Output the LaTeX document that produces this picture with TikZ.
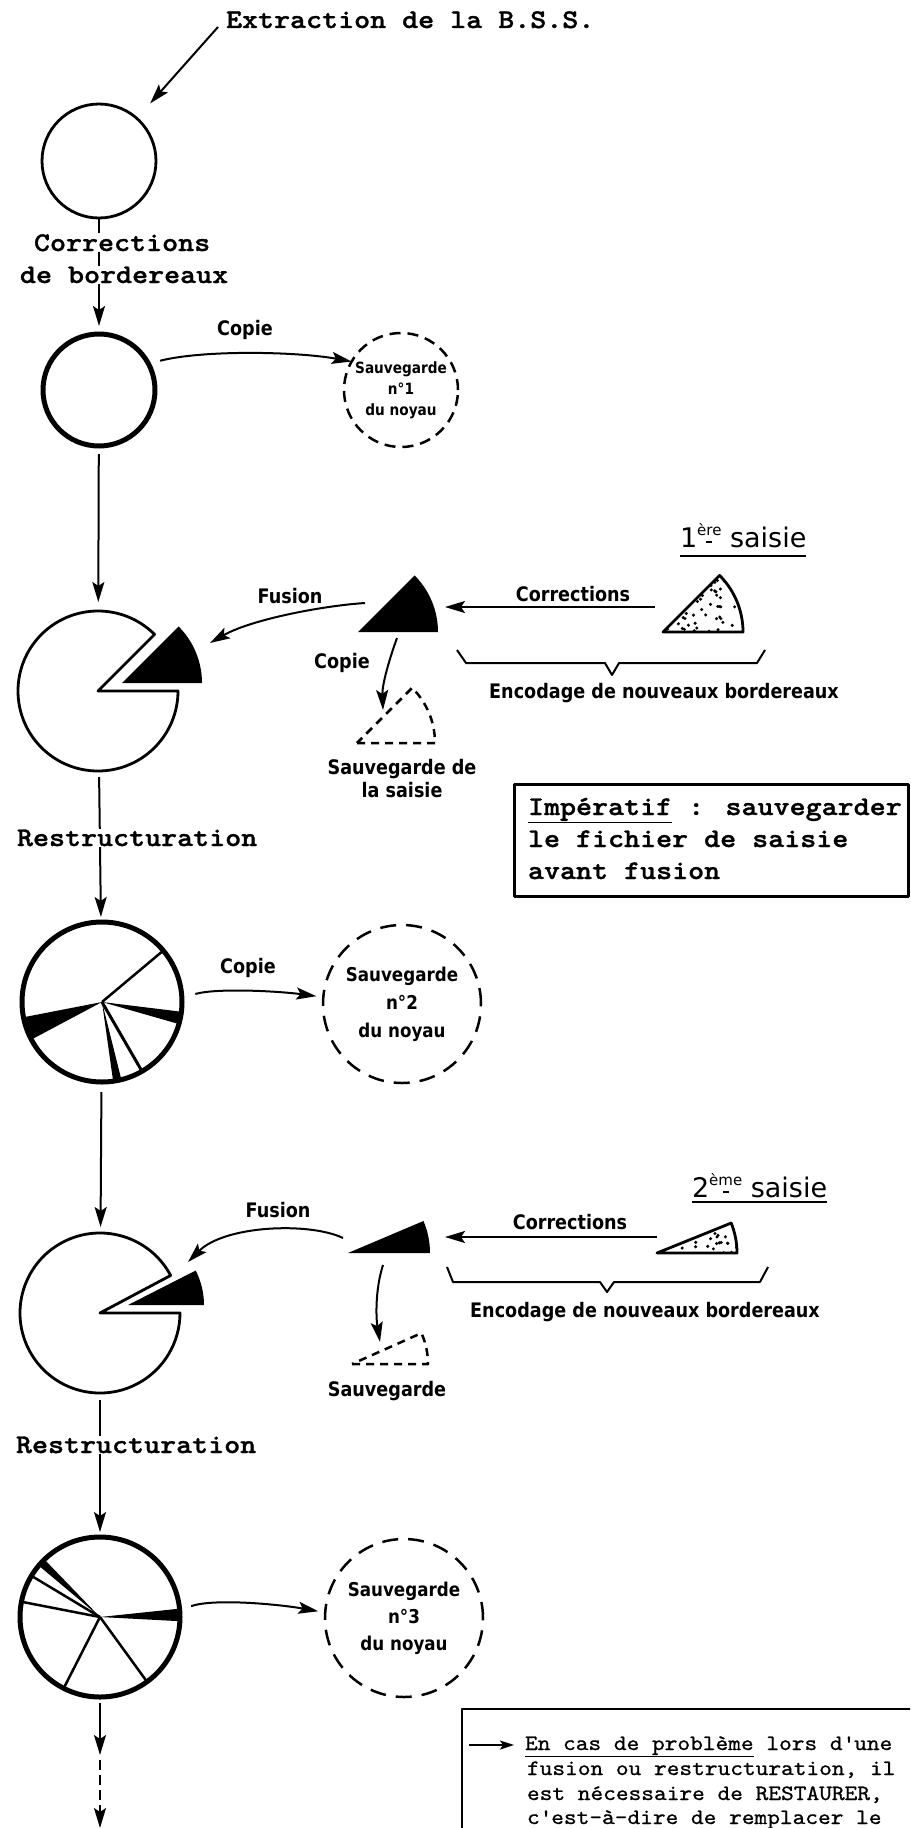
\documentclass[tikz,border=0pt]{standalone}
\usepackage{fontspec}
\usetikzlibrary{arrows.meta}
\newfontfamily\tw[FakeStretch=1.13,FakeBold=1.2]{lmmonolt10-bold.otf}
\newfontfamily\twr[FakeStretch=1.1,FakeBold=0.8]{lmmono10-regular.otf}
\newfontfamily\lt[FakeStretch=0.88]{DejaVu Sans}
\newfontfamily\ls{DejaVu Sans}
\newcommand\supu[1]{\raisebox{4pt}{\shortstack{\fontsize{15}{15}\selectfont #1\\[2pt]\rule{6pt}{2pt}}}}
\begin{document}
\begin{tikzpicture}[x=1pt,y=-1pt,line join=round,
 conn/.style={line width=2pt},
 arr/.style={conn,-{Stealth[length=20pt,width=12pt,inset=4pt]}},
 txt/.style={inner sep=0pt,outer sep=0pt},
 tt/.style={txt,anchor=base west,font=\tw\fontsize{27}{32}\selectfont},
 ttw/.style={tt,fill=white,inner sep=1pt},
 lab/.style={txt,font=\lt\bfseries\fontsize{20}{23}\selectfont},
 savc/.style={circle,draw,line width=2.5pt,inner sep=0pt,outer sep=0pt,align=center,dash pattern=on 16pt off 10pt},
 pac/.style={line width=2.8pt},
 wheel/.style={circle,draw,line width=5pt,minimum size=160pt,inner sep=0pt,outer sep=0pt},
 spoke/.style={line width=2.5pt},
 hole/.style={circle,inner sep=0pt,outer sep=0pt,minimum size=160pt},
 dsec/.style={line width=2.5pt,dash pattern=on 8pt off 6pt},
 boxl/.style={draw,line width=2.5pt,inner sep=0pt,anchor=north west},
 bt/.style={txt,anchor=base west,font=\twr\fontsize{22}{25}\selectfont},
]
\useasboundingbox (0,0) rectangle (910,1828);
\clip (0,0) rectangle (910,1828);
\fill[white] (0,0) rectangle (910,1828);

% ---------- top ----------
\node[tt] (ext) at (226,28) {Extraction de la B.S.S.};
\coordinate (e0) at (218,27);
\node[circle,draw,line width=2.8pt,minimum size=114pt,inner sep=0pt,outer sep=0pt] (c1) at (99,161) {};
\draw[arr,shorten >=20pt] (e0) -- (c1);

\node[circle,draw,line width=5pt,minimum size=112pt,inner sep=0pt,outer sep=0pt] (c2) at (99,390) {};
\draw[arr,shorten >=8pt] (c1) -- (c2);
\node[ttw] (cor) at (33,251) {Corrections};
\node[ttw] (bor) at (19,283) {de bordereaux};

\node[savc,minimum size=114pt,dash pattern=on 11pt off 7pt,font=\lt\bfseries\fontsize{15.5}{21}\selectfont] (s1) at (401,390) {Sauvegarde\\n°1\\du noyau};
\draw[arr,shorten <=12pt] (c2.28) .. controls +(55,-14) and +(-55,-10) .. (s1.150);
\node[lab] (cop1) at (245,330) {Copie};

% ---------- first fusion ----------
\node[hole] (p1) at (98,691) {};
\draw[arr,shorten <=8pt,shorten >=9pt] (c2) -- (p1);
\draw[pac] (p1.center) -- ++(-45:80) arc[start angle=-45,end angle=-360,radius=80] -- cycle;
\coordinate (w1a) at (122,683);
\fill (w1a) -- ++(80,0) arc[start angle=0,end angle=-45,radius=80] -- cycle;

\coordinate (S1) at (358,632);
\fill (S1) -- ++(80,0) arc[start angle=0,end angle=-45,radius=80] -- cycle;
\coordinate (D1) at (357,743);
\draw[dsec] (D1) -- ++(78,0) arc[start angle=0,end angle=-45,radius=78] -- cycle;
\coordinate (T1) at (663,632);
\begin{scope}
\clip (T1) -- ++(80,0) arc[start angle=0,end angle=-45,radius=80] -- cycle;
\pgfmathsetseed{5}
\foreach \i in {1,...,70}{\fill (663+rnd*80,632-rnd*58) circle[radius=1.7pt];}
\end{scope}
\draw[pac] (T1) -- ++(80,0) arc[start angle=0,end angle=-45,radius=80] -- cycle;

\coordinate (fa1) at (365,603); \coordinate (fb1) at (210,643);
\draw[arr] (fa1) .. controls (320,606) and (250,620) .. (fb1);
\node[lab] (fus1) at (290,596) {Fusion};
\coordinate (ca1) at (397,638); \coordinate (cb1) at (383,710);
\draw[arr] (ca1) .. controls (389,660) and (382,685) .. (cb1);
\node[lab] (cop2) at (342,663) {Copie};
\coordinate (ka1) at (655,607); \coordinate (kb1) at (445,607);
\draw[arr] (ka1) -- (kb1);
\node[lab] (corr1) at (573,594) {Corrections};
\draw[conn] (457,650) -- (466,663) -- (605,663) -- (612,675) -- (619,663) -- (757,663) -- (765,650);
\node[lab] (enc1) at (664,693) {Encodage de nouveaux bordereaux};
\node[lab,align=center] (sv1) at (402,779) {Sauvegarde de\\la saisie};
\node[txt,anchor=base west,font=\ls\fontsize{27}{30}\selectfont] (sa1) at (680,547) {1\supu{ère} saisie};
\draw[line width=2.2pt] ([yshift=-9pt]sa1.base west) -- ([yshift=-9pt]sa1.base east);

\node[boxl,minimum width=394pt,minimum height=112pt] (imp) at (513,783) {};
\node[tt] (imp1) at (528,815) {\underline{Impératif} : sauvegarder};
\node[tt] (imp2) at (528,847) {le fichier de saisie};
\node[tt] (imp3) at (528,879) {avant fusion};

% ---------- first restructuration ----------
\node[wheel] (w1) at (102,1002) {};
\draw[arr,shorten <=6pt,shorten >=5pt] (p1) -- (w1);
\node[ttw] (re1) at (16,846) {Restructuration};
\draw[spoke] (w1.center) -- ++(-40:80);
\fill (w1.center) -- ++(-191:80) arc[start angle=-191,end angle=-208,radius=80] -- cycle;
\fill (w1.center) -- ++(16:80) arc[start angle=16,end angle=7,radius=80] -- cycle;
\fill (w1.center) -- ++(82:80) arc[start angle=82,end angle=76,radius=80] -- cycle;
\draw[line width=3pt] (w1.center) -- ++(60:80);

\node[savc,minimum size=158pt,font=\lt\bfseries\fontsize{19}{28}\selectfont] (s2) at (402,1004) {Sauvegarde\\n°2\\du noyau};
\draw[arr,shorten <=14pt,shorten >=7pt] (w1.3) .. controls +(35,-10) and +(-45,-6) .. (s2.175);
\node[lab] (cop3) at (248,968) {Copie};

% ---------- second fusion ----------
\node[hole] (p2) at (100,1313) {};
\draw[arr,shorten <=10pt,shorten >=6pt] (w1) -- (p2);
\draw[pac] (p2.center) -- ++(-28:80) arc[start angle=-28,end angle=-360,radius=80] -- cycle;
\coordinate (w2a) at (128,1305);
\fill (w2a) -- ++(76,0) arc[start angle=0,end angle=-27,radius=76] -- cycle;

\coordinate (S2) at (348,1253);
\fill (S2) -- ++(82,0) arc[start angle=0,end angle=-23,radius=82] -- cycle;
\coordinate (D2) at (352,1364);
\draw[dsec] (D2) -- ++(76,0) arc[start angle=0,end angle=-24,radius=76] -- cycle;
\coordinate (T2) at (657,1253);
\begin{scope}
\clip (T2) -- ++(80,0) arc[start angle=0,end angle=-22,radius=80] -- cycle;
\pgfmathsetseed{9}
\foreach \i in {1,...,40}{\fill (657+rnd*80,1253-rnd*30) circle[radius=1.7pt];}
\end{scope}
\draw[pac] (T2) -- ++(80,0) arc[start angle=0,end angle=-22,radius=80] -- cycle;

\coordinate (fa2) at (343,1238); \coordinate (fb2) at (188,1262);
\draw[arr] (fa2) .. controls (310,1222) and (225,1225) .. (fb2);
\node[lab] (fus2) at (278,1210) {Fusion};
\coordinate (ca2) at (383,1265); \coordinate (cb2) at (380,1342);
\draw[arr] (ca2) .. controls (375,1290) and (376,1318) .. (cb2);
\coordinate (ka2) at (657,1237); \coordinate (kb2) at (445,1237);
\draw[arr] (ka2) -- (kb2);
\node[lab] (corr2) at (570,1222) {Corrections};
\draw[conn] (447,1267) -- (453,1282) -- (600,1282) -- (607,1292) -- (614,1282) -- (760,1282) -- (768,1267);
\node[lab] (enc2) at (645,1312) {Encodage de nouveaux bordereaux};
\node[lab] (sv2) at (387,1391) {Sauvegarde};
\node[txt,anchor=base west,font=\ls\fontsize{27}{30}\selectfont] (sa2) at (692,1197) {2\supu{ème} saisie};
\draw[line width=2.2pt] ([yshift=-5pt]sa2.base west) -- ([yshift=-5pt]sa2.base east);

% ---------- second restructuration ----------
\node[wheel] (w2) at (100,1617) {};
\draw[arr,shorten <=7pt,shorten >=5pt] (p2) -- (w2);
\node[ttw] (re2) at (15,1453) {Restructuration};
\fill (w2.center) -- ++(-134:80) arc[start angle=-134,end angle=-140,radius=80] -- cycle;
\draw[spoke] (w2.center) -- ++(-149:80);
\draw[spoke] (w2.center) -- ++(-169:80);
\draw[spoke] (w2.center) -- ++(-243:80);
\draw[spoke] (w2.center) -- ++(54:80);
\fill (w2.center) -- ++(3:80) arc[start angle=3,end angle=-6,radius=80] -- cycle;

\node[savc,minimum size=158pt,font=\lt\bfseries\fontsize{19}{27}\selectfont] (s3) at (404,1618) {Sauvegarde\\n°3\\du noyau};
\draw[arr,shorten <=12pt,shorten >=7pt] (w2.5) .. controls +(35,-12) and +(-45,-8) .. (s3.176);

\coordinate (m1) at (100,1755);
\coordinate (m2) at (100,1806);
\coordinate (m3) at (100,1828);
\draw[arr,shorten <=6pt] (w2) -- (m1);
\draw[conn,dash pattern=on 10pt off 5pt] ([yshift=-5pt]m1) -- (m2);
\draw[arr] (m2) -- (m3);

% ---------- bottom note ----------
\node[boxl,line width=2.2pt,minimum width=470pt,minimum height=200pt] (note) at (461,1708) {};
\coordinate (b0) at (469,1745); \coordinate (b1) at (514,1745);
\draw[line width=2pt,-{Stealth[length=14pt,width=9pt,inset=3pt]}] (b0) -- (b1);
\node[bt] (bt1) at (525,1750) {\underline{En cas de problème} lors d\textquotesingle une};
\node[bt] (bt2) at (527,1775) {fusion ou restructuration, il};
\node[bt] (bt3) at (527,1800) {est nécessaire de RESTAURER,};
\node[bt] (bt4) at (527,1824) {c\textquotesingle est-à-dire de remplacer le};
\end{tikzpicture}
\end{document}
